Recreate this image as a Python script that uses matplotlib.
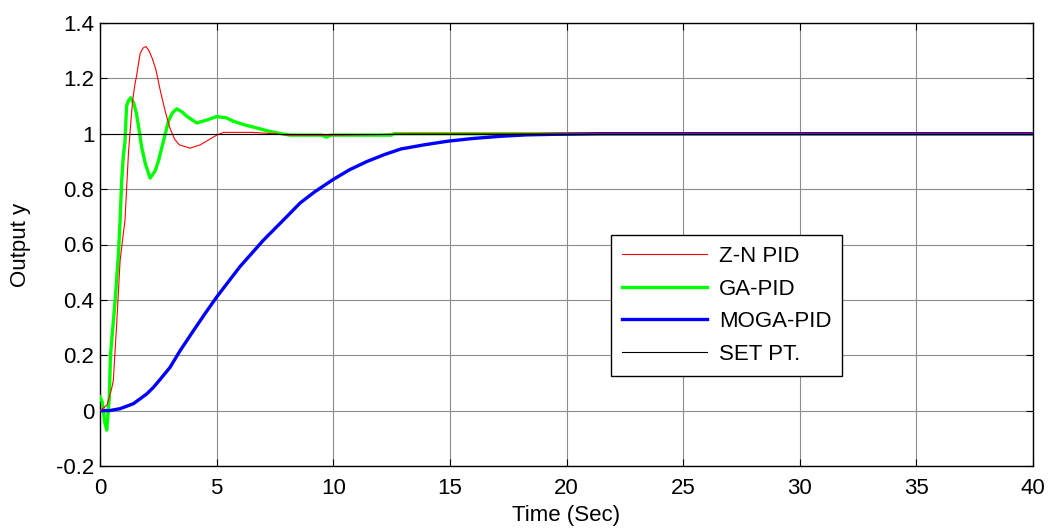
import matplotlib
matplotlib.use("Agg")
import matplotlib.pyplot as plt

plt.rcParams['font.family'] = ['Liberation Sans', 'DejaVu Sans']

# Z-N PID
t_zn = [0, 0.3, 0.5, 0.57, 0.72, 0.86, 1.0, 1.07, 1.14, 1.22, 1.29, 1.4, 1.5, 1.57, 1.72, 1.85, 1.97, 2.1, 2.25, 2.4, 2.6, 2.8, 3.0, 3.2, 3.4, 3.86, 4.3, 4.7, 5.0, 5.3, 6.5, 7.5, 8.0, 10.0, 12.0, 13.0, 40]
y_zn = [0, 0.02, 0.08, 0.108, 0.32, 0.54, 0.64, 0.685, 0.8, 0.93, 1.01, 1.12, 1.18, 1.21, 1.29, 1.31, 1.315, 1.3, 1.27, 1.23, 1.15, 1.08, 1.02, 0.98, 0.96, 0.948, 0.96, 0.98, 0.995, 1.005, 1.005, 1.0, 0.995, 0.995, 0.997, 1.0, 1.0]

# GA-PID
t_ga = [0, 0.1, 0.2, 0.29, 0.4, 0.45, 0.55, 0.65, 0.79, 0.86, 0.93, 1.0, 1.07, 1.14, 1.22, 1.32, 1.45, 1.57, 1.7, 1.79, 1.95, 2.15, 2.36, 2.5, 2.65, 2.8, 2.93, 3.1, 3.29, 3.5, 3.72, 4.15, 4.6, 5.0, 5.4, 5.72, 6.2, 6.72, 7.2, 7.58, 8.15, 9.5, 9.7, 9.9, 12.5, 12.6, 40]
y_ga = [0.05, 0.03, -0.04, -0.07, 0.05, 0.2, 0.3, 0.4, 0.565, 0.685, 0.83, 0.92, 0.97, 1.1, 1.12, 1.13, 1.11, 1.07, 1.0, 0.95, 0.89, 0.84, 0.865, 0.9, 0.95, 1.0, 1.045, 1.075, 1.09, 1.08, 1.063, 1.039, 1.05, 1.062, 1.058, 1.045, 1.032, 1.021, 1.01, 1.003, 0.995, 0.995, 0.988, 0.995, 0.995, 1.0, 1.0]

# MOGA-PID
t_moga = [0, 0.4, 0.86, 1.43, 2.0, 2.29, 2.6, 3.0, 3.43, 4.0, 4.5, 5.0, 6.0, 7.0, 8.0, 8.58, 9.2, 10.0, 10.7, 11.45, 12.2, 12.9, 13.9, 14.9, 16.0, 17.2, 18.3, 19.5, 21.5, 40]
y_moga = [0, 0, 0.007, 0.025, 0.06, 0.084, 0.115, 0.156, 0.216, 0.288, 0.35, 0.41, 0.52, 0.615, 0.7, 0.75, 0.79, 0.835, 0.87, 0.9, 0.925, 0.945, 0.96, 0.973, 0.983, 0.991, 0.996, 0.998, 1.0, 1.0]

# Set point
t_sp = [0, 40]
y_sp = [1, 1]

labels = ['Z-N PID', 'GA-PID', 'MOGA-PID', 'SET PT.']
x_ticks = [0, 5, 10, 15, 20, 25, 30, 35, 40]
y_ticks = [-0.2, 0, 0.2, 0.4, 0.6, 0.8, 1.0, 1.2, 1.4]
y_tick_labels = ['-0.2', '0', '0.2', '0.4', '0.6', '0.8', '1', '1.2', '1.4']

fig = plt.figure(figsize=(10.51, 5.29), dpi=100)
ax = fig.add_axes([100/1051, 1-466/529, (1033-100)/1051, (466-23)/529])

l1, = ax.plot(t_zn, y_zn, color='#ff0000', lw=0.8, zorder=4)
l2, = ax.plot(t_ga, y_ga, color='#00ff00', lw=2.4, zorder=3)
l3, = ax.plot(t_moga, y_moga, color='#0000ff', lw=2.4, zorder=3.5)
l4, = ax.plot(t_sp, y_sp, color='black', lw=0.8, zorder=5)

ax.set_xlim(0, 40)
ax.set_ylim(-0.2, 1.4)
ax.set_xticks(x_ticks)
ax.set_yticks(y_ticks)
ax.set_yticklabels(y_tick_labels)
ax.tick_params(direction='in', length=5, width=0.8, labelsize=16, top=True, right=True, pad=4)
ax.tick_params(axis='x', pad=9)
ax.grid(True, color='#8c8c8c', lw=0.8)
ax.set_axisbelow(True)
for s in ax.spines.values():
    s.set_linewidth(1.0)

ax.set_xlabel('Time (Sec)', fontsize=16, labelpad=4)
ax.set_ylabel('Output y', fontsize=16, labelpad=18)

leg = ax.legend([l1, l2, l3, l4], labels, loc='upper left',
                bbox_to_anchor=(611/1051, 1-235/529), bbox_transform=fig.transFigure,
                fontsize=16, frameon=True, fancybox=False, framealpha=1,
                edgecolor='black', handlelength=3.8, labelspacing=0.52,
                borderpad=0.5, handletextpad=0.55, borderaxespad=0)
leg.get_frame().set_linewidth(1.0)

fig.savefig('out.png', dpi=100)
